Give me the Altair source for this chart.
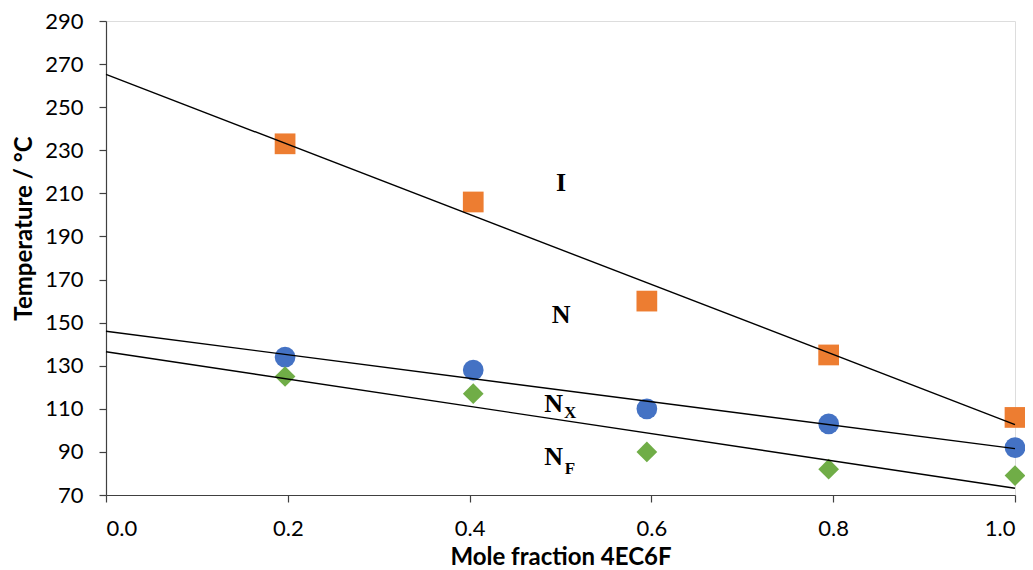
import altair as alt
import pandas as pd

# Data
mole_fraction = [0.197, 0.404, 0.595, 0.795, 1.0]
temp_I = [233, 206, 160, 135, 106]
temp_NX = [134, 128, 110, 103, 92]
temp_NF = [125, 117, 90, 82, 79]

series_names = ["I", "NX", "NF"]
series_colors = ["#ED7D31", "#4472C4", "#70AD47"]
series_shapes = ["square", "circle", "diamond"]

# Phase labels (annotation text)
label_text = ["I", "N", "N", "N"]
label_x = [0.5006, 0.5006, 0.4925, 0.4925]
label_y = [211.0, 149.8, 108.5, 84.0]
sub_text = ["X", "F"]
sub_x = [0.5105, 0.5105]
sub_y = [105.6, 79.6]

y_ticks = list(range(70, 291, 20))
x_ticks = [0.0, 0.2, 0.4, 0.6, 0.8, 1.0]

rows = []
for name, vals in zip(series_names, [temp_I, temp_NX, temp_NF]):
    for xv, yv in zip(mole_fraction, vals):
        rows.append({"x": xv, "y": yv, "series": name})
df = pd.DataFrame(rows)

labels_df = pd.DataFrame({"text": label_text, "x": label_x, "y": label_y})
subs_df = pd.DataFrame({"text": sub_text, "x": sub_x, "y": sub_y})

FONT = "Lato"
AXIS_COLOR = "#404040"

x_scale = alt.Scale(domain=[0, 1], nice=False, zero=False)
y_scale = alt.Scale(domain=[70, 290], nice=False, zero=False)

x_axis = alt.Axis(
    title="Mole fraction 4EC6F", values=x_ticks, format=".1f", grid=False,
    tickSize=7, labelPadding=16, labelFontSize=22, labelFont=FONT,
    labelColor="#000000", titleFont=FONT, titleFontSize=24, titleFontWeight="bold",
    titleColor="#000000", titleBaseline="alphabetic", titleY=69,
    domainColor=AXIS_COLOR, tickColor=AXIS_COLOR, domainWidth=1.2, tickWidth=1.2,
)
y_axis = alt.Axis(
    title="Temperature / °C", values=y_ticks, grid=False,
    tickSize=7, labelPadding=16, labelFontSize=22, labelFont=FONT,
    labelColor="#000000", titleFont=FONT, titleFontSize=24, titleFontWeight="bold",
    titleColor="#000000", titleX=-70, titleY=207, titleBaseline="bottom",
    domainColor=AXIS_COLOR, tickColor=AXIS_COLOR, domainWidth=1.2, tickWidth=1.2,
)

base = alt.Chart(df)

points = base.mark_point(filled=True, size=430, opacity=1).encode(
    x=alt.X("x:Q", scale=x_scale, axis=x_axis),
    y=alt.Y("y:Q", scale=y_scale, axis=y_axis),
    color=alt.Color("series:N", scale=alt.Scale(domain=series_names, range=series_colors), legend=None),
    shape=alt.Shape("series:N", scale=alt.Scale(domain=series_names, range=series_shapes), legend=None),
)

lines = base.transform_regression(
    "x", "y", groupby=["series"], extent=[0, 1]
).mark_line(color="#000000", strokeWidth=1.4).encode(
    x=alt.X("x:Q", scale=x_scale),
    y=alt.Y("y:Q", scale=y_scale),
    detail="series:N",
)

labels = alt.Chart(labels_df).mark_text(
    font="Liberation Serif", fontSize=26, fontWeight="bold", color="#000000",
    align="center", baseline="alphabetic",
).encode(
    x=alt.X("x:Q", scale=x_scale),
    y=alt.Y("y:Q", scale=y_scale),
    text="text:N",
)

subs = alt.Chart(subs_df).mark_text(
    font="Liberation Serif", fontSize=17, fontWeight="bold", color="#000000",
    align="center", baseline="alphabetic",
).encode(
    x=alt.X("x:Q", scale=x_scale),
    y=alt.Y("y:Q", scale=y_scale),
    text="text:N",
)

chart = alt.layer(points, lines, labels, subs).properties(
    width=909, height=474,
    autosize=alt.AutoSizeParams(type="none"),
    padding={"left": 98, "top": 13, "right": 10, "bottom": 74},
).configure_view(stroke=None).configure(background="white")

chart.save("out.html", embed_options={"renderer": "svg", "actions": False})
